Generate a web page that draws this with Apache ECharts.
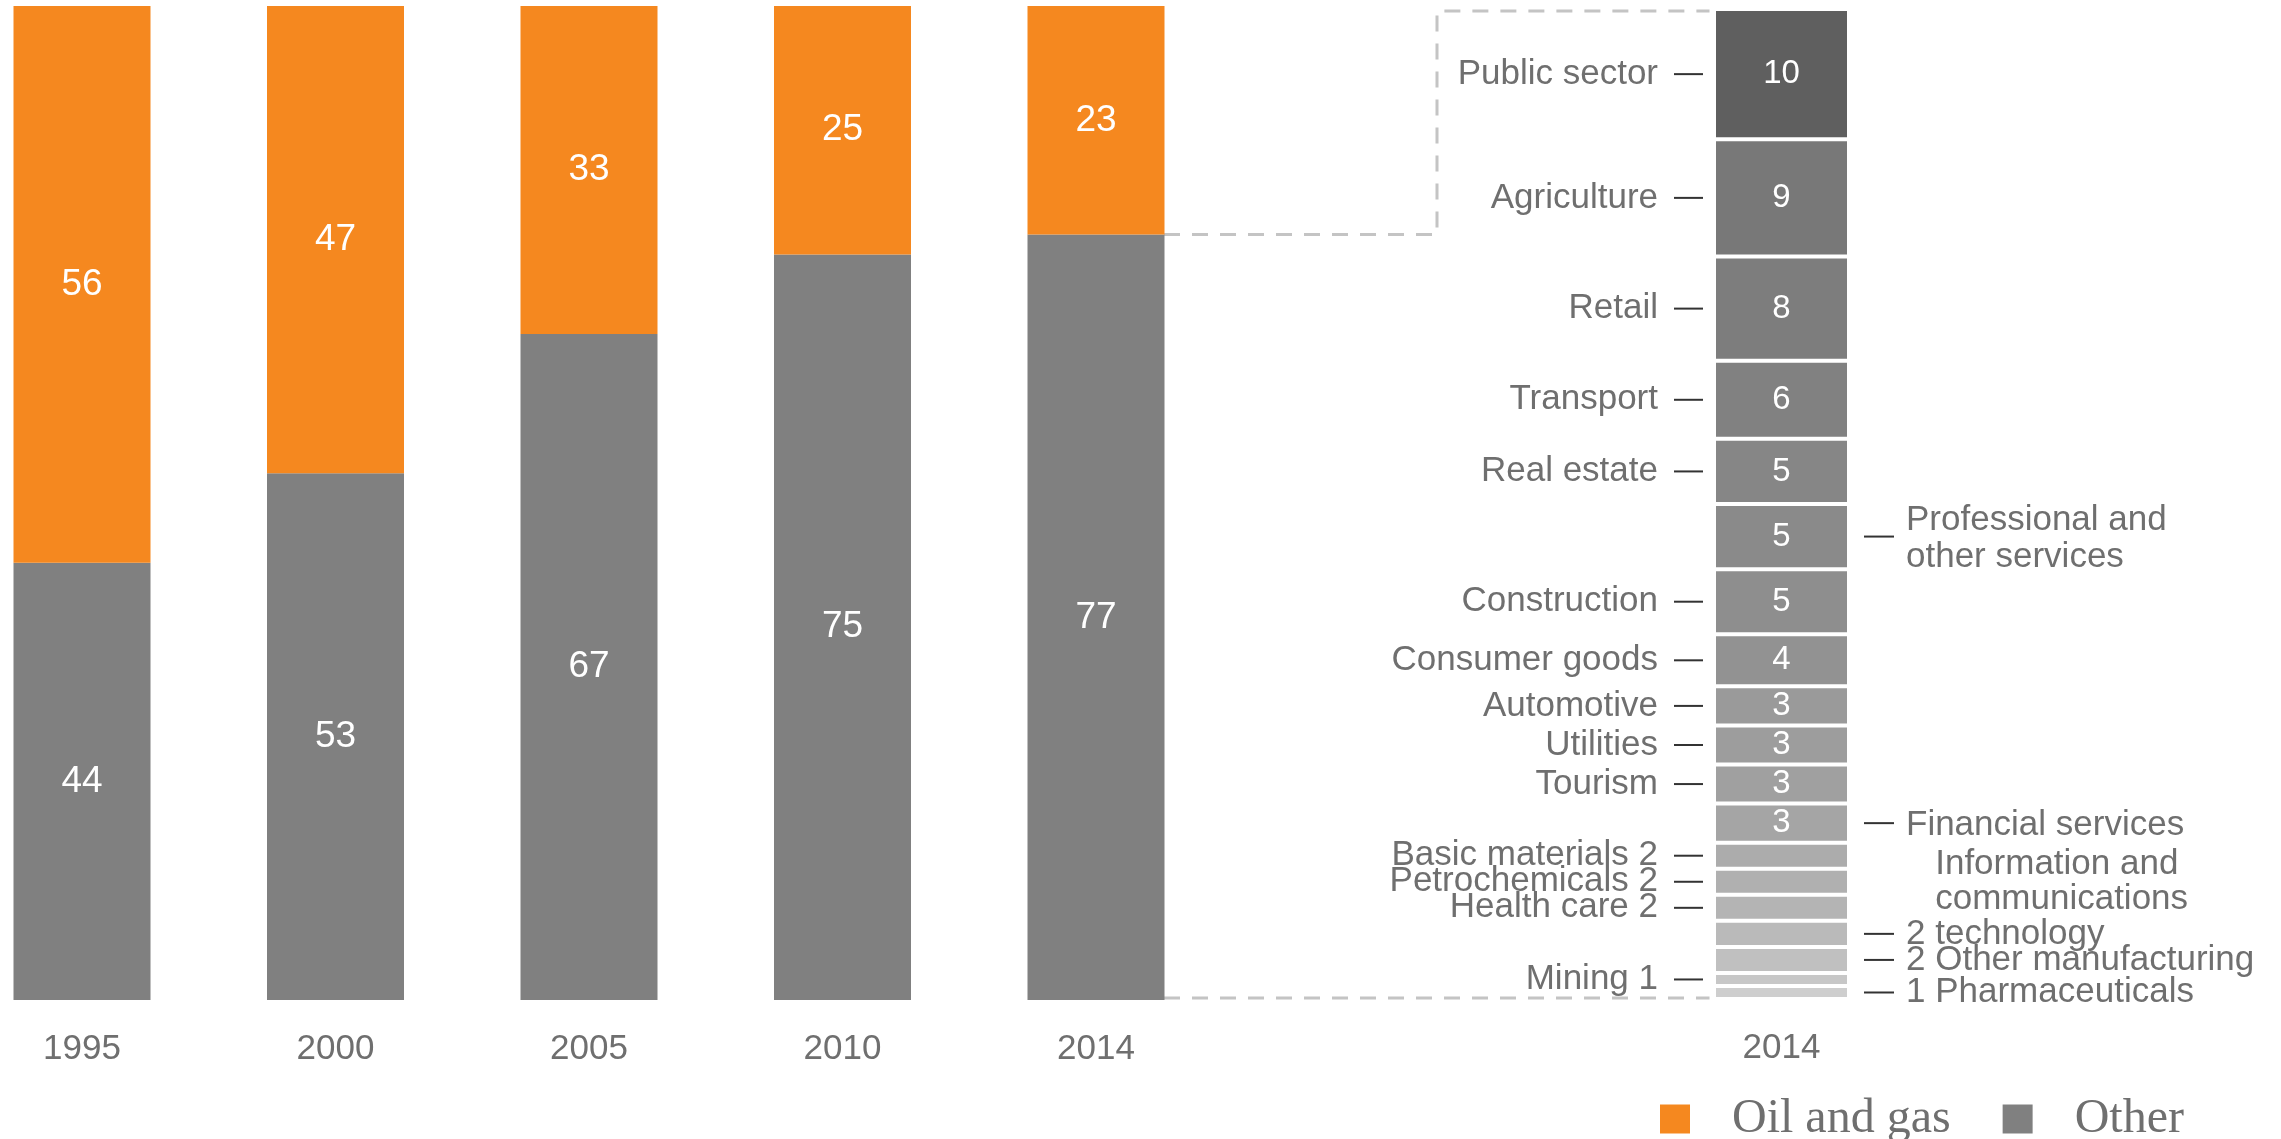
<!DOCTYPE html>
<html>
<head>
<meta charset="utf-8">
<script src="https://cdn.jsdelivr.net/npm/echarts@6/dist/echarts.min.js"></script>
<style>
  html, body { margin: 0; padding: 0; background: #fff; }
  #chart { width: 2281px; height: 1139px; }
</style>
</head>
<body>
<div id="chart"></div>
<script>
// GDP share, %
const years = ['1995', '2000', '2005', '2010', '2014'];
const oilGas = [56, 47, 33, 25, 23];
const other = [44, 53, 67, 75, 77];

// split of "Other" in 2014, listed from the top of the bar down
const sectors = ['Public sector', 'Agriculture', 'Retail', 'Transport', 'Real estate',
  'Professional and\nother services', 'Construction', 'Consumer goods', 'Automotive',
  'Utilities', 'Tourism', 'Financial services', 'Basic materials', 'Petrochemicals',
  'Health care', 'Information and\ncommunications\ntechnology', 'Other manufacturing',
  'Mining', 'Pharmaceuticals'];
const sectorValues = [10, 9, 8, 6, 5, 5, 5, 4, 3, 3, 3, 3, 2, 2, 2, 2, 2, 1, 1];

// labels that sit on the right of the breakdown bar
const rightSide = ['Professional and\nother services', 'Financial services',
  'Information and\ncommunications\ntechnology', 'Other manufacturing', 'Pharmaceuticals'];

const greys = ['#5f5f5f', '#787878', '#7d7d7d', '#818181', '#868686', '#8a8a8a', '#8e8e8e',
  '#929292', '#9a9a9a', '#9d9d9d', '#a0a0a0', '#a5a5a5', '#acacac', '#b0b0b0', '#b4b4b4',
  '#bababa', '#c0c0c0', '#c7c7c7', '#cecece'];

const ORANGE = '#f5881f';
const GREY = '#808080';
const TEXT = '#6f6f6f';
const FAMILY = '"Liberation Sans", Arial, sans-serif';
const FONT = '35px ' + FAMILY;

const total = sectorValues.reduce((a, b) => a + b, 0);

// bottom/top of each segment in the breakdown bar
let acc = total;
const sectorSpans = sectorValues.map(v => {
  const hi = acc;
  acc -= v;
  return [0, acc, hi];
});

const measure = document.createElement('canvas').getContext('2d');
measure.font = FONT;

function renderSectorLabel(params, api) {
  const i = params.dataIndex;
  const name = sectors[i];
  const v = sectorValues[i];
  const top = api.coord([0, api.value(2)]);
  const bot = api.coord([0, api.value(1)]);
  const cy = (top[1] + bot[1]) / 2;
  const half = api.size([1, 0])[0] / 2;
  const cx = top[0];
  const small = v < 3;
  const children = [];

  if (rightSide.indexOf(name) < 0) {
    const x0 = cx - half;
    children.push({ type: 'line', shape: { x1: x0 - 40, y1: cy, x2: x0 - 11, y2: cy },
      style: { stroke: '#333', lineWidth: 2 } });
    children.push({ type: 'text', style: { text: small ? name + ' ' + v : name,
      x: x0 - 56, y: cy, align: 'right', verticalAlign: 'middle', font: FONT, fill: TEXT } });
  } else {
    const x0 = cx + half;
    children.push({ type: 'line', shape: { x1: x0 + 15, y1: cy, x2: x0 + 45, y2: cy },
      style: { stroke: '#333', lineWidth: 2 } });
    const lines = name.split('\n');
    if (small) {
      const last = lines.pop();
      const pre = v + ' ';
      children.push({ type: 'text', style: { text: pre + last, x: x0 + 57, y: cy,
        align: 'left', verticalAlign: 'middle', font: FONT, fill: TEXT } });
      if (lines.length) {
        children.push({ type: 'text', style: { text: lines.join('\n'),
          x: x0 + 57 + measure.measureText(pre).width, y: cy - 17, lineHeight: 35,
          align: 'left', verticalAlign: 'bottom', font: FONT, fill: TEXT } });
      }
    } else {
      children.push({ type: 'text', style: { text: name, x: x0 + 57, y: cy + 2, lineHeight: 37,
        align: 'left', verticalAlign: 'middle', font: FONT, fill: TEXT } });
    }
  }
  return { type: 'group', children: children };
}

const axisLabel = { color: TEXT, fontSize: 35, fontFamily: FAMILY, margin: 32 };
const valueLabel = { show: true, position: 'inside', color: '#fff', fontSize: 37, fontFamily: FAMILY };

const sectorSeries = sectors.map((name, i) => ({
  type: 'bar',
  name: name,
  xAxisIndex: 1,
  yAxisIndex: 1,
  stack: 'sectors',
  barWidth: '100%',
  data: [sectorValues[i]],
  itemStyle: { color: greys[i], borderColor: '#fff', borderWidth: 2 },
  label: { show: sectorValues[i] >= 3, position: 'inside', color: '#fff',
    fontSize: 33, fontFamily: FAMILY },
  silent: true
})).reverse();

const chart = echarts.init(document.getElementById('chart'));
chart.setOption({
  animation: false,
  grid: [
    { left: 82, width: 1014, top: 6, bottom: 139 },
    { left: 1714, width: 135, top: 9, bottom: 140 }
  ],
  xAxis: [
    { type: 'category', gridIndex: 0, data: years, boundaryGap: false, axisLine: { show: false },
      axisTick: { show: false }, splitLine: { show: false }, axisLabel: axisLabel },
    { type: 'category', gridIndex: 1, data: ['2014'], axisLine: { show: false },
      axisTick: { show: false }, axisLabel: axisLabel }
  ],
  yAxis: [
    { type: 'value', gridIndex: 0, min: 0, max: 100, show: false },
    { type: 'value', gridIndex: 1, min: 0, max: total, show: false }
  ],
  legend: {
    data: ['Oil and gas', 'Other'],
    left: 1655,
    top: 1090,
    icon: 'rect',
    itemWidth: 30,
    itemHeight: 29,
    itemGap: 52,
    selectedMode: false,
    textStyle: { color: TEXT, fontSize: 48, fontFamily: '"Liberation Serif", "Times New Roman", serif',
      padding: [0, 0, 0, 37] }
  },
  series: [
    { type: 'bar', name: 'Other', stack: 'gdp', data: other, barWidth: 137, clip: false,
      itemStyle: { color: GREY }, label: valueLabel },
    { type: 'bar', name: 'Oil and gas', stack: 'gdp', data: oilGas, barWidth: 137, clip: false,
      itemStyle: { color: ORANGE }, label: valueLabel }
  ].concat(sectorSeries).concat([
    { type: 'custom', xAxisIndex: 1, yAxisIndex: 1, clip: false, silent: true,
      encode: { x: 0, y: [1, 2] }, data: sectorSpans, renderItem: renderSectorLabel }
  ])
});

// dashed bracket joining the 2014 "Other" block to its breakdown
const xLast = chart.convertToPixel({ xAxisIndex: 0 }, '2014') + 68;
const yJoin = chart.convertToPixel({ yAxisIndex: 0 }, other[other.length - 1]);
const yBase = chart.convertToPixel({ yAxisIndex: 0 }, 0) - 2;
const yTop = chart.convertToPixel({ yAxisIndex: 1 }, total) + 2;
const xBreak = chart.convertToPixel({ xAxisIndex: 1 }, '2014') - 72;
const dash = { stroke: '#c4c4c4', lineWidth: 3, lineDash: [16, 12], fill: null };
chart.setOption({
  graphic: [
    { type: 'polyline', silent: true, style: dash,
      shape: { points: [[xLast, yJoin], [1437, yJoin], [1437, yTop], [xBreak, yTop]] } },
    { type: 'polyline', silent: true, style: dash,
      shape: { points: [[xLast, yBase], [xBreak, yBase]] } }
  ]
});
</script>
</body>
</html>
